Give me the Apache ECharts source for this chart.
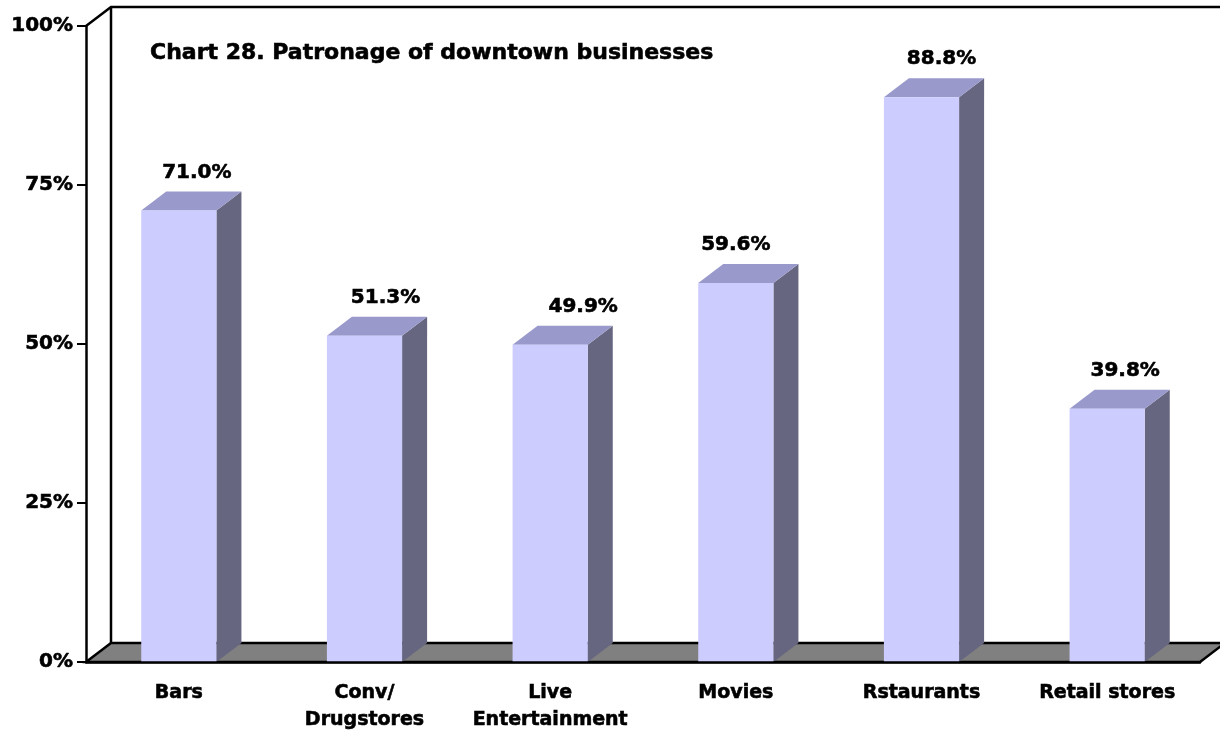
<!DOCTYPE html>
<html>
<head>
<meta charset="utf-8">
<script src="https://cdn.jsdelivr.net/npm/echarts@6/dist/echarts.min.js"></script>
<style>
  html, body { margin: 0; padding: 0; background: #fff; }
  #chart { width: 1220px; height: 735px; }
</style>
</head>
<body>
<div id="chart"></div>
<script>
// Share of respondents who patronise each kind of downtown business
const categories = ['Bars', 'Conv/\nDrugstores', 'Live\nEntertainment', 'Movies', 'Rstaurants', 'Retail stores'];
const patronage = [71.0, 51.3, 49.9, 59.6, 88.8, 39.8];
const yTicks = [0, 25, 50, 75, 100];

// Horizontal nudge of each value label relative to its bar (pixels)
const labelNudgeX = [18, 21, 33, 0, 20, 18];

// Oblique projection used for the 3-D look
const DEPTH_X = 25;
const DEPTH_Y = 19;

const FONT = '"DejaVu Sans", "Liberation Sans", Arial, sans-serif';
const FRONT = '#ccccff', TOP = '#9999cc', SIDE = '#666680', FLOOR = '#808080';
// a thin outline in the text colour gives the heavy bold look
const HEAVY = { textBorderColor: '#000', textBorderWidth: 0.6 };

// Floor, back wall outline and the left-wall top edge, built from the grid rectangle
function renderFrame(params, api) {
  const cs = params.coordSys;
  const xl = cs.x, xr = cs.x + cs.width, yt = cs.y, yb = cs.y + cs.height;
  const line = { stroke: '#000', lineWidth: 2.5, fill: null };
  return {
    type: 'group',
    children: [
      { type: 'polygon', shape: { points: [[xl, yb], [xr, yb], [xr + DEPTH_X, yb - DEPTH_Y], [xl + DEPTH_X, yb - DEPTH_Y]] },
        style: { fill: FLOOR, stroke: '#000', lineWidth: 2.5 } },
      { type: 'polyline', shape: { points: [[xl, yt], [xl + DEPTH_X, yt - DEPTH_Y], [xr + DEPTH_X + 40, yt - DEPTH_Y]] }, style: line },
      { type: 'line', shape: { x1: xl + DEPTH_X, y1: yt - DEPTH_Y, x2: xl + DEPTH_X, y2: yb - DEPTH_Y }, style: line }
    ]
  };
}

// One prism per category: front face, top face, right side face and its value label
function renderBar(params, api) {
  const idx = api.value(0);
  const val = api.value(1);
  const top = api.coord([idx, val]);
  const base = api.coord([idx, 0]);
  const w = api.size([1, 0])[0] * 0.405;
  const xL = top[0] - w / 2, xR = top[0] + w / 2;
  const yT = top[1], yB = base[1];
  return {
    type: 'group',
    children: [
      { type: 'polygon', shape: { points: [[xR, yB], [xR + DEPTH_X, yB - DEPTH_Y], [xR + DEPTH_X, yT - DEPTH_Y], [xR, yT]] },
        style: { fill: SIDE } },
      { type: 'polygon', shape: { points: [[xL, yT], [xR, yT], [xR + DEPTH_X, yT - DEPTH_Y], [xL + DEPTH_X, yT - DEPTH_Y]] },
        style: { fill: TOP } },
      { type: 'rect', shape: { x: xL, y: yT, width: w, height: yB - yT }, style: { fill: FRONT } },
      { type: 'text', x: top[0] + labelNudgeX[params.dataIndex], y: yT - DEPTH_Y - 19,
        style: { text: val.toFixed(1) + '%', fill: '#000', font: 'bold 20px ' + FONT,
                 textAlign: 'center', textVerticalAlign: 'middle', stroke: '#000', lineWidth: 0.6 } }
    ]
  };
}

const chart = echarts.init(document.getElementById('chart'), null, { renderer: 'canvas' });
chart.setOption({
  backgroundColor: '#ffffff',
  animation: false,
  title: {
    text: 'Chart 28. Patronage of downtown businesses',
    left: 145, top: 37,
    textStyle: Object.assign({ fontFamily: FONT, fontWeight: 'bold', fontSize: 22, color: '#000' }, HEAVY)
  },
  grid: { left: 86, right: 20, top: 26, bottom: 73, containLabel: false },
  xAxis: {
    type: 'category',
    data: categories,
    z: 5,
    axisLine: { lineStyle: { color: '#000', width: 2.5 } },
    axisTick: { length: 11, lineStyle: { color: '#000', width: 2 } },
    axisLabel: Object.assign({ margin: 18, color: '#000', fontFamily: FONT, fontWeight: 'bold', fontSize: 19, lineHeight: 27, interval: 0 }, HEAVY),
    splitLine: { show: false }
  },
  yAxis: {
    type: 'value',
    min: yTicks[0], max: yTicks[yTicks.length - 1], interval: yTicks[1] - yTicks[0],
    z: 5,
    axisLine: { show: true, lineStyle: { color: '#000', width: 2.5 } },
    axisTick: { show: true, length: 9, lineStyle: { color: '#000', width: 2 } },
    axisLabel: Object.assign({ margin: 13, padding: [8, 0, 0, 0], color: '#000', fontFamily: FONT, fontWeight: 'bold', fontSize: 20, formatter: '{value}%' }, HEAVY),
    splitLine: { show: false }
  },
  series: [
    { type: 'custom', renderItem: renderFrame, data: [[0, 0]], z: 1, silent: true, clip: false },
    { type: 'custom', renderItem: renderBar, data: patronage.map((v, i) => [i, v]), z: 2, clip: false }
  ]
});
</script>
</body>
</html>
